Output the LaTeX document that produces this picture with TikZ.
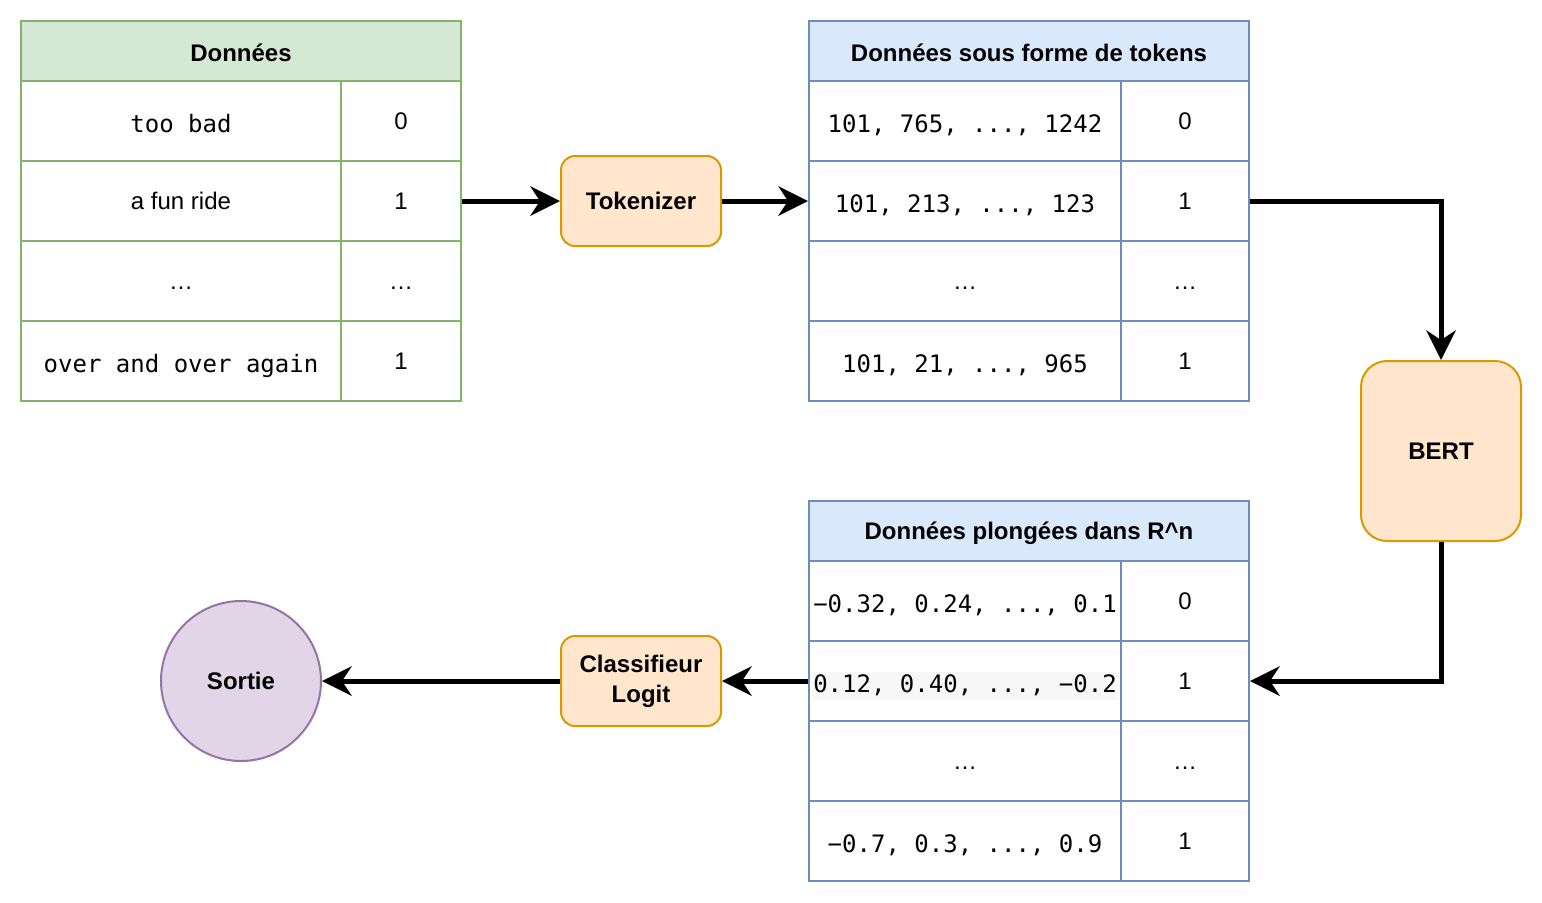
\documentclass[tikz,border=0pt]{standalone}
\usepackage{fontspec}
\setmainfont{Liberation Sans}
\setmonofont{DejaVu Sans Mono}
\usetikzlibrary{arrows.meta}
\definecolor{gfill}{HTML}{D5E8D4}
\definecolor{gstroke}{HTML}{82B366}
\definecolor{bfill}{HTML}{DAE8FC}
\definecolor{bstroke}{HTML}{6C8EBF}
\definecolor{ofill}{HTML}{FFE6CC}
\definecolor{ostroke}{HTML}{D79B00}
\definecolor{pfill}{HTML}{E1D5E7}
\definecolor{pstroke}{HTML}{9673A6}
\definecolor{hl}{HTML}{F7F7F7}
\newcommand\fsz{\fontsize{12}{15}\selectfont}
\begin{document}
\begin{tikzpicture}[x=0.5pt,y=-0.5pt,
  cellbase/.style={fill=white, line width=1pt, inner sep=0pt, minimum height=40pt, font=\fsz},
  gcell/.style={cellbase, draw=gstroke},
  bcell/.style={cellbase, draw=bstroke},
  mono/.style={font=\fsz\ttfamily, text height=12.5pt, text depth=1pt},
  dots/.style={text height=8pt, text depth=0pt},
  ghead/.style={draw=gstroke, fill=gfill, line width=1pt, minimum width=220pt, minimum height=30pt, inner sep=0pt, font=\fsz\bfseries},
  bhead/.style={draw=bstroke, fill=bfill, line width=1pt, minimum width=220pt, minimum height=30pt, inner sep=0pt, font=\fsz\bfseries},
  proc/.style={draw=ostroke, fill=ofill, line width=1pt, minimum width=80pt, minimum height=45pt, rounded corners=7pt, inner sep=0pt, align=center, font=\fsz\bfseries},
  flow/.style={line width=2.5pt, -{Stealth[length=15pt,width=15pt,inset=5pt,line width=0pt]}}
]
\useasboundingbox (0,0) rectangle (1542,902);
% Table 1
\node[ghead, text height=10pt, text depth=0pt] (h1) at (241,51) {Données};
\node[gcell, mono, minimum width=160pt] (a1) at (181,121) {too bad};
\node[gcell, minimum width=60pt] (b1) at (401,121) {0};
\node[gcell, minimum width=160pt] (a2) at (181,201) {a fun ride};
\node[gcell, minimum width=60pt] (b2) at (401,201) {1};
\node[gcell, dots, minimum width=160pt] (a3) at (181,281) {…};
\node[gcell, dots, minimum width=60pt] (b3) at (401,281) {…};
\node[gcell, mono, minimum width=160pt] (a4) at (181,361) {over and over again};
\node[gcell, minimum width=60pt] (b4) at (401,361) {1};
% Table 2
\node[bhead, text height=10pt, text depth=0pt] (h2) at (1029,51) {Données sous forme de tokens};
\node[bcell, mono, minimum width=156pt] (c1) at (965,121) {101, 765, ..., 1242};
\node[bcell, minimum width=64pt] (d1) at (1185,121) {0};
\node[bcell, mono, minimum width=156pt] (c2) at (965,201) {101, 213, ..., 123};
\node[bcell, minimum width=64pt] (d2) at (1185,201) {1};
\node[bcell, dots, minimum width=156pt] (c3) at (965,281) {…};
\node[bcell, dots, minimum width=64pt] (d3) at (1185,281) {…};
\node[bcell, mono, minimum width=156pt] (c4) at (965,361) {101, 21, ..., 965};
\node[bcell, minimum width=64pt] (d4) at (1185,361) {1};
% Table 3
\node[bhead, text height=11pt, text depth=2.5pt] (h3) at (1029,531) {Données plongées dans R\textasciicircum{}n};
\node[bcell, mono, minimum width=156pt] (e1) at (965,601) {−0.32, 0.24, ..., 0.1};
\node[bcell, minimum width=64pt] (f1) at (1185,601) {0};
\node[bcell, mono, minimum width=156pt] (e2) at (965,681) {{\fboxsep=0pt\colorbox{hl}{\rule[-3.5pt]{0pt}{14pt}0.12, 0.40, ..., −0.2}}};
\node[bcell, minimum width=64pt] (f2) at (1185,681) {1};
\node[bcell, dots, minimum width=156pt] (e3) at (965,761) {…};
\node[bcell, dots, minimum width=64pt] (f3) at (1185,761) {…};
\node[bcell, mono, minimum width=156pt] (e4) at (965,841) {−0.7, 0.3, ..., 0.9};
\node[bcell, minimum width=64pt] (f4) at (1185,841) {1};
% Processes
\node[proc] (tok) at (641,201) {Tokenizer};
\node[proc, minimum height=90pt, rounded corners=13pt] (bert) at (1441,451) {BERT};
\node[proc] (cls) at (641,681) {Classifieur\\Logit};
\node[circle, draw=pstroke, fill=pfill, line width=1pt, minimum size=80pt, inner sep=0pt, font=\fsz\bfseries] (sortie) at (241,681) {Sortie};
% Connectors
\draw[flow] (b2.east) -- (tok.west);
\draw[flow] (tok.east) -- (c2.west);
\draw[flow] (d2.east) -| (bert.north);
\draw[flow] (bert.south) |- (f2.east);
\draw[flow] (e2.west) -- (cls.east);
\draw[flow] (cls.west) -- (sortie.east);
\end{tikzpicture}
\end{document}
